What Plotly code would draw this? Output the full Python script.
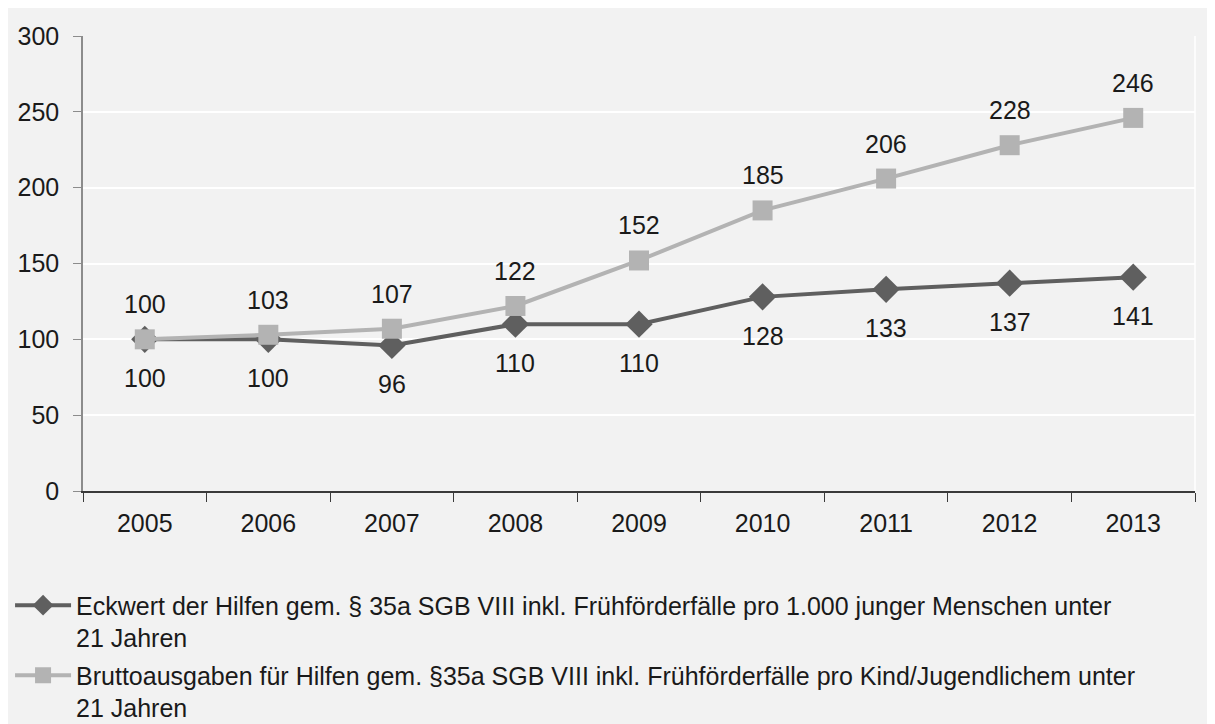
import plotly.graph_objects as go

years = ['2005', '2006', '2007', '2008', '2009', '2010', '2011', '2012', '2013']
eckwert = [100, 100, 96, 110, 110, 128, 133, 137, 141]
brutto = [100, 103, 107, 122, 152, 185, 206, 228, 246]

name_eckwert = ('Eckwert der Hilfen gem. § 35a SGB VIII inkl. Frühförderfälle pro 1.000 junger Menschen unter'
                '<br>21 Jahren')
name_brutto = ('Bruttoausgaben für Hilfen gem. §35a SGB VIII inkl. Frühförderfälle pro Kind/Jugendlichem unter'
               '<br>21 Jahren')

color_dark = '#5f5f5f'
color_light = '#b3b3b3'
text_color = '#1a1a1a'
font_family = 'Liberation Sans, Arial, sans-serif'
fsize = 25

fig = go.Figure()
fig.add_trace(go.Scatter(
    x=years, y=eckwert,
    mode='lines+markers',
    name=name_eckwert,
    legendgroup='a',
    line=dict(color=color_dark, width=4),
    marker=dict(symbol='diamond', size=21, color=color_dark),
))
fig.add_trace(go.Scatter(
    x=years, y=brutto,
    mode='lines+markers',
    name=name_brutto,
    legendgroup='b',
    line=dict(color=color_light, width=4),
    marker=dict(symbol='square', size=20, color=color_light),
))

# data labels: light series above, dark series below
# (category axis: annotations take the category index, numeric strings would be misread)
for i, y in enumerate(brutto):
    fig.add_annotation(x=i, y=y, text=str(y), showarrow=False, yshift=35,
                       font=dict(size=fsize, color=text_color, family=font_family))
for i, y in enumerate(eckwert):
    fig.add_annotation(x=i, y=y, text=str(y), showarrow=False, yshift=-39,
                       font=dict(size=fsize, color=text_color, family=font_family))

# white border on the right edge of the plot area
fig.add_shape(type='line', xref='paper', yref='paper', x0=1, x1=1, y0=0, y1=1,
              line=dict(color='#ffffff', width=1.5), layer='below')

fig.update_xaxes(
    type='category', categoryorder='array', categoryarray=years,
    range=[-0.5, len(years) - 0.5], autorange=False,
    showline=True, linecolor='#3a3a3a', linewidth=1.5,
    ticks='outside', tickson='boundaries', ticklen=9, tickcolor='#3a3a3a',
    showgrid=False, tickangle=0, ticklabelstandoff=9,
    tickfont=dict(size=fsize, color=text_color, family=font_family),
)
fig.update_yaxes(
    range=[0, 300], dtick=50,
    showline=True, linecolor='#8c8c8c', linewidth=1.5,
    ticks='outside', ticklen=8, tickcolor='#8c8c8c',
    showgrid=True, gridcolor='#ffffff', gridwidth=1.5,
    zeroline=False, ticklabelstandoff=9,
    tickfont=dict(size=fsize, color=text_color, family=font_family),
)

fig.update_layout(
    width=1215, height=724,
    margin=dict(l=75, r=28, t=28, b=241, autoexpand=False),
    paper_bgcolor='#f2f2f2', plot_bgcolor='#f2f2f2',
    font=dict(family=font_family, size=fsize, color=text_color),
    showlegend=True,
    legend=dict(x=-0.0656, y=-0.201, xanchor='left', yanchor='top',
                bgcolor='rgba(0,0,0,0)', valign='top', tracegroupgap=2,
                itemwidth=56, font=dict(size=fsize, color=text_color, family=font_family)),
)

fig.write_html("out.html")
